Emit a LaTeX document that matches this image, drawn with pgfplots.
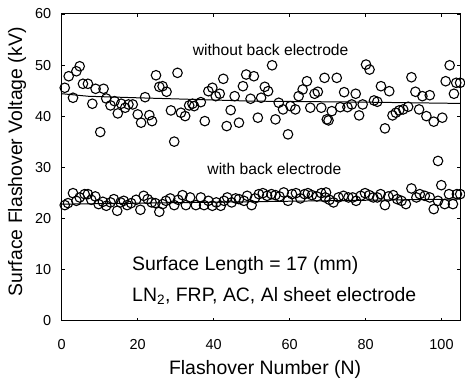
\documentclass[border=0pt]{standalone}
\usepackage{fontspec}
\setmainfont{Liberation Sans}
\usepackage{pgfplots}
\pgfplotsset{compat=1.18}
\usepackage{pgfplotstable}
\pgfplotstableread{
x y
0.79 45.56
1.83 47.82
2.96 43.61
3.85 48.79
4.72 49.77
5.58 46.34
6.89 46.34
8.05 42.44
8.91 45.36
10.14 36.90
11.01 45.36
11.72 43.47
12.84 42.11
13.89 42.94
14.76 40.55
15.65 42.44
16.70 41.66
17.56 42.30
18.69 42.30
20.00 40.35
20.89 38.73
21.94 43.72
23.07 40.21
23.77 39.04
24.82 48.01
25.69 45.75
26.55 45.87
27.60 44.78
28.75 41.13
29.62 35.03
30.48 48.48
31.38 40.68
32.50 40.02
33.55 42.11
34.42 42.44
34.86 41.97
36.62 42.75
37.67 39.04
38.61 44.89
39.66 45.56
40.55 43.92
41.60 44.39
42.54 47.31
43.43 38.07
44.48 41.19
45.53 43.92
46.66 38.73
47.71 45.87
48.57 48.15
49.72 43.41
50.59 47.82
51.64 39.71
52.50 43.61
53.47 45.75
54.34 44.89
55.39 49.96
56.28 39.38
57.14 42.63
58.27 41.33
59.58 36.45
60.21 41.97
61.52 41.33
62.38 43.92
63.43 45.22
64.56 46.84
65.45 41.66
66.58 44.39
67.44 44.78
68.34 41.66
69.20 47.50
69.80 39.38
70.25 39.18
71.11 40.99
72.42 47.50
73.32 41.77
74.36 44.70
75.23 41.77
76.36 42.30
77.41 44.39
78.30 40.16
79.24 42.30
80.13 50.10
81.05 49.12
82.23 43.08
83.09 42.83
84.06 45.87
85.11 37.62
86.24 44.89
87.10 40.16
87.99 40.68
88.86 41.13
89.91 41.33
91.22 41.85
92.08 47.62
93.13 44.78
94.10 41.33
94.97 43.92
96.02 40.02
96.91 44.11
97.96 38.93
99.08 31.25
100.21 39.71
101.10 46.84
102.15 49.96
103.28 44.39
103.88 46.53
104.90 46.53
}\without
\pgfplotstableread{
x y
0.79 22.61
1.65 23.00
2.96 24.95
3.85 23.45
4.72 24.11
6.03 24.76
6.89 24.76
7.78 23.65
8.83 24.31
9.70 22.81
10.83 23.26
11.72 22.48
12.84 23.14
13.71 23.78
14.60 21.50
15.47 23.14
16.33 23.45
17.22 22.61
18.27 23.00
19.58 23.65
20.71 21.70
21.57 24.43
22.62 23.78
23.67 23.14
24.64 23.00
25.69 21.31
26.55 22.81
27.44 23.45
28.57 23.92
29.62 22.61
30.67 23.65
31.80 24.56
32.69 22.61
33.81 24.11
35.31 22.61
36.62 24.11
37.48 22.61
38.61 23.45
39.66 22.48
40.71 23.14
41.86 22.48
42.73 23.45
43.59 24.11
44.74 23.14
45.79 23.92
46.66 23.78
47.97 23.45
48.83 24.43
49.99 22.61
50.85 23.92
51.90 24.76
52.95 24.95
54.08 24.43
55.23 24.76
56.28 24.56
57.33 24.31
58.45 25.09
59.58 23.45
60.63 24.76
61.68 24.95
62.83 23.92
63.96 24.76
64.82 24.95
65.87 24.56
67.18 24.31
68.34 24.95
69.38 24.11
69.60 25.09
70.51 23.65
71.56 23.14
72.87 24.11
74.18 24.43
75.49 24.11
76.62 24.11
77.51 23.45
78.72 24.43
79.87 24.95
81.00 24.56
82.04 24.11
83.09 24.11
83.96 24.76
85.11 22.61
85.98 24.31
87.29 24.56
88.34 23.78
89.46 23.45
90.62 22.81
92.08 25.87
93.39 24.11
94.28 24.76
95.60 24.43
96.91 24.11
97.96 21.83
99.08 23.45
99.95 26.51
100.84 22.81
101.97 24.76
103.01 22.81
104.06 24.76
104.93 24.76
}\with
\begin{document}
\begin{tikzpicture}
\begin{axis}[
  width=400.3pt, height=308pt, scale only axis,
  xmin=0, xmax=105, ymin=0, ymax=60,
  xtick={0,20,...,100}, ytick={0,10,...,60},
  tick align=inside, major tick length=3pt,
  axis line style={line width=1pt},
  every tick/.style={line width=0.8pt, black},
  /pgf/number format/assume math mode=true,
  ticklabel style={font=\fontsize{14.5}{17}\selectfont},
  yticklabel style={xshift=-7pt},
  xticklabel style={yshift=-15pt},
  xlabel={Flashover Number (N)},
  ylabel={Surface Flashover Voltage (kV)},
  label style={font=\fontsize{19.5}{23}\selectfont},
  xlabel style={at={(axis description cs:0.51,-0.16)}, anchor=center},
  ylabel style={at={(axis description cs:-0.112,0.518)}, anchor=center},
]
\addplot[black, line width=1pt] coordinates {(0,44.4) (7,43.9) (20,43.6) (34,43.3) (50,42.95) (80,42.75) (105,42.5)};
\addplot[black, line width=1pt] coordinates {(0,22.8) (105,23.8)};
\addplot[only marks, mark=o, mark size=4.8pt, mark options={line width=1.1pt, black}] table[x=x,y=y] {\without};
\addplot[only marks, mark=o, mark size=4.8pt, mark options={line width=1.1pt, black}] table[x=x,y=y] {\with};
\node[font=\fontsize{15.7}{18}\selectfont, inner sep=1pt] at (axis cs:55,53) {without back electrode};
\node[font=\fontsize{15.7}{18}\selectfont, inner sep=1pt] at (axis cs:56,29.6) {with back electrode};
\node[font=\fontsize{19.5}{23}\selectfont, anchor=west, inner sep=0pt] at (axis cs:18.5,10.9) {Surface Length = 17 (mm)};
\node[font=\fontsize{19.5}{23}\selectfont, anchor=west, inner sep=0pt] at (axis cs:18.5,4.9) {LN\textsubscript{2}, FRP, AC, Al sheet electrode};
\end{axis}
\path (current axis.south west) -- ++(-62pt,-65pt);
\path (current axis.north east) -- ++(2.7pt,14pt);
\end{tikzpicture}
\end{document}
